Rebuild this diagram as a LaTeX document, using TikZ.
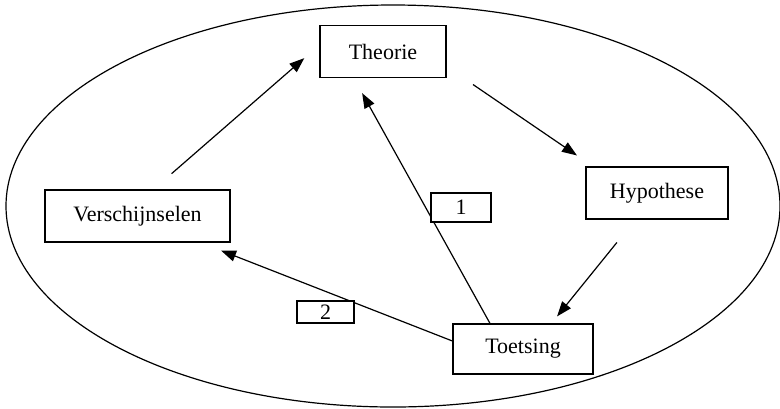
\documentclass[tikz,border=0pt]{standalone}
\usepackage{fontspec}
\setmainfont{Liberation Serif}
\usetikzlibrary{arrows.meta}

\begin{document}
\begin{tikzpicture}[
    x=0.5pt, y=-0.5pt,
    line width=0.6pt,
    >={Triangle[length=7.5pt, width=5.5pt]},
    stage/.style={rectangle, draw, inner sep=2pt, font=\fontsize{11}{13}\selectfont, minimum height=26pt},
    % small numbered tags sitting on two of the arrows
    tag/.style={rectangle, draw, fill=white, inner sep=1pt, font=\fontsize{11}{13}\selectfont}
  ]
    \useasboundingbox (0,0) rectangle (780,408);

    %--- Surrounding ellipse ---
    \draw (393,206) ellipse [x radius=387, y radius=201];

    %--- Stages of the cycle ---
    \node[stage, minimum width=63pt]   (theorie)        at (383,51.5) {Theorie};
    \node[stage, minimum width=71pt]   (hypothese)      at (657,193)  {Hypothese};
    \node[stage, minimum width=92.5pt] (verschijnselen) at (137.5,216) {Verschijnselen};
    \node[stage, minimum width=70pt, minimum height=25pt] (toetsing) at (523,349) {Toetsing};

    %--- Arrows (explicit anchors, shortened to leave the gaps) ---
    \draw[->, shorten <=12pt, shorten >=10pt] ([xshift=8pt]verschijnselen.north) -- ([yshift=3.25pt]theorie.west);
    \draw[->, shorten <=16pt, shorten >=9.7pt] ([yshift=-7.5pt]theorie.east) -- ([xshift=-32pt]hypothese.north);
    \draw[->, shorten <=14.7pt, shorten >=4.5pt] ([xshift=-10.8pt]hypothese.south) -- ([xshift=14.2pt]toetsing.north);
    \draw[->, shorten >=8.6pt] ([xshift=-16.5pt]toetsing.north) -- ([xshift=-14.6pt]theorie.south);
    \draw[->, shorten >=10.9pt] ([yshift=4pt]toetsing.west) -- ([xshift=31.6pt]verschijnselen.south);

    %--- Tags ---
    \node[tag, minimum width=30pt, minimum height=14.5pt] (tagone) at (461,207.5) {1};
    \node[tag, minimum width=28.5pt, minimum height=11pt] (tagtwo) at (325.5,312) {2};
  \end{tikzpicture}
\end{document}
